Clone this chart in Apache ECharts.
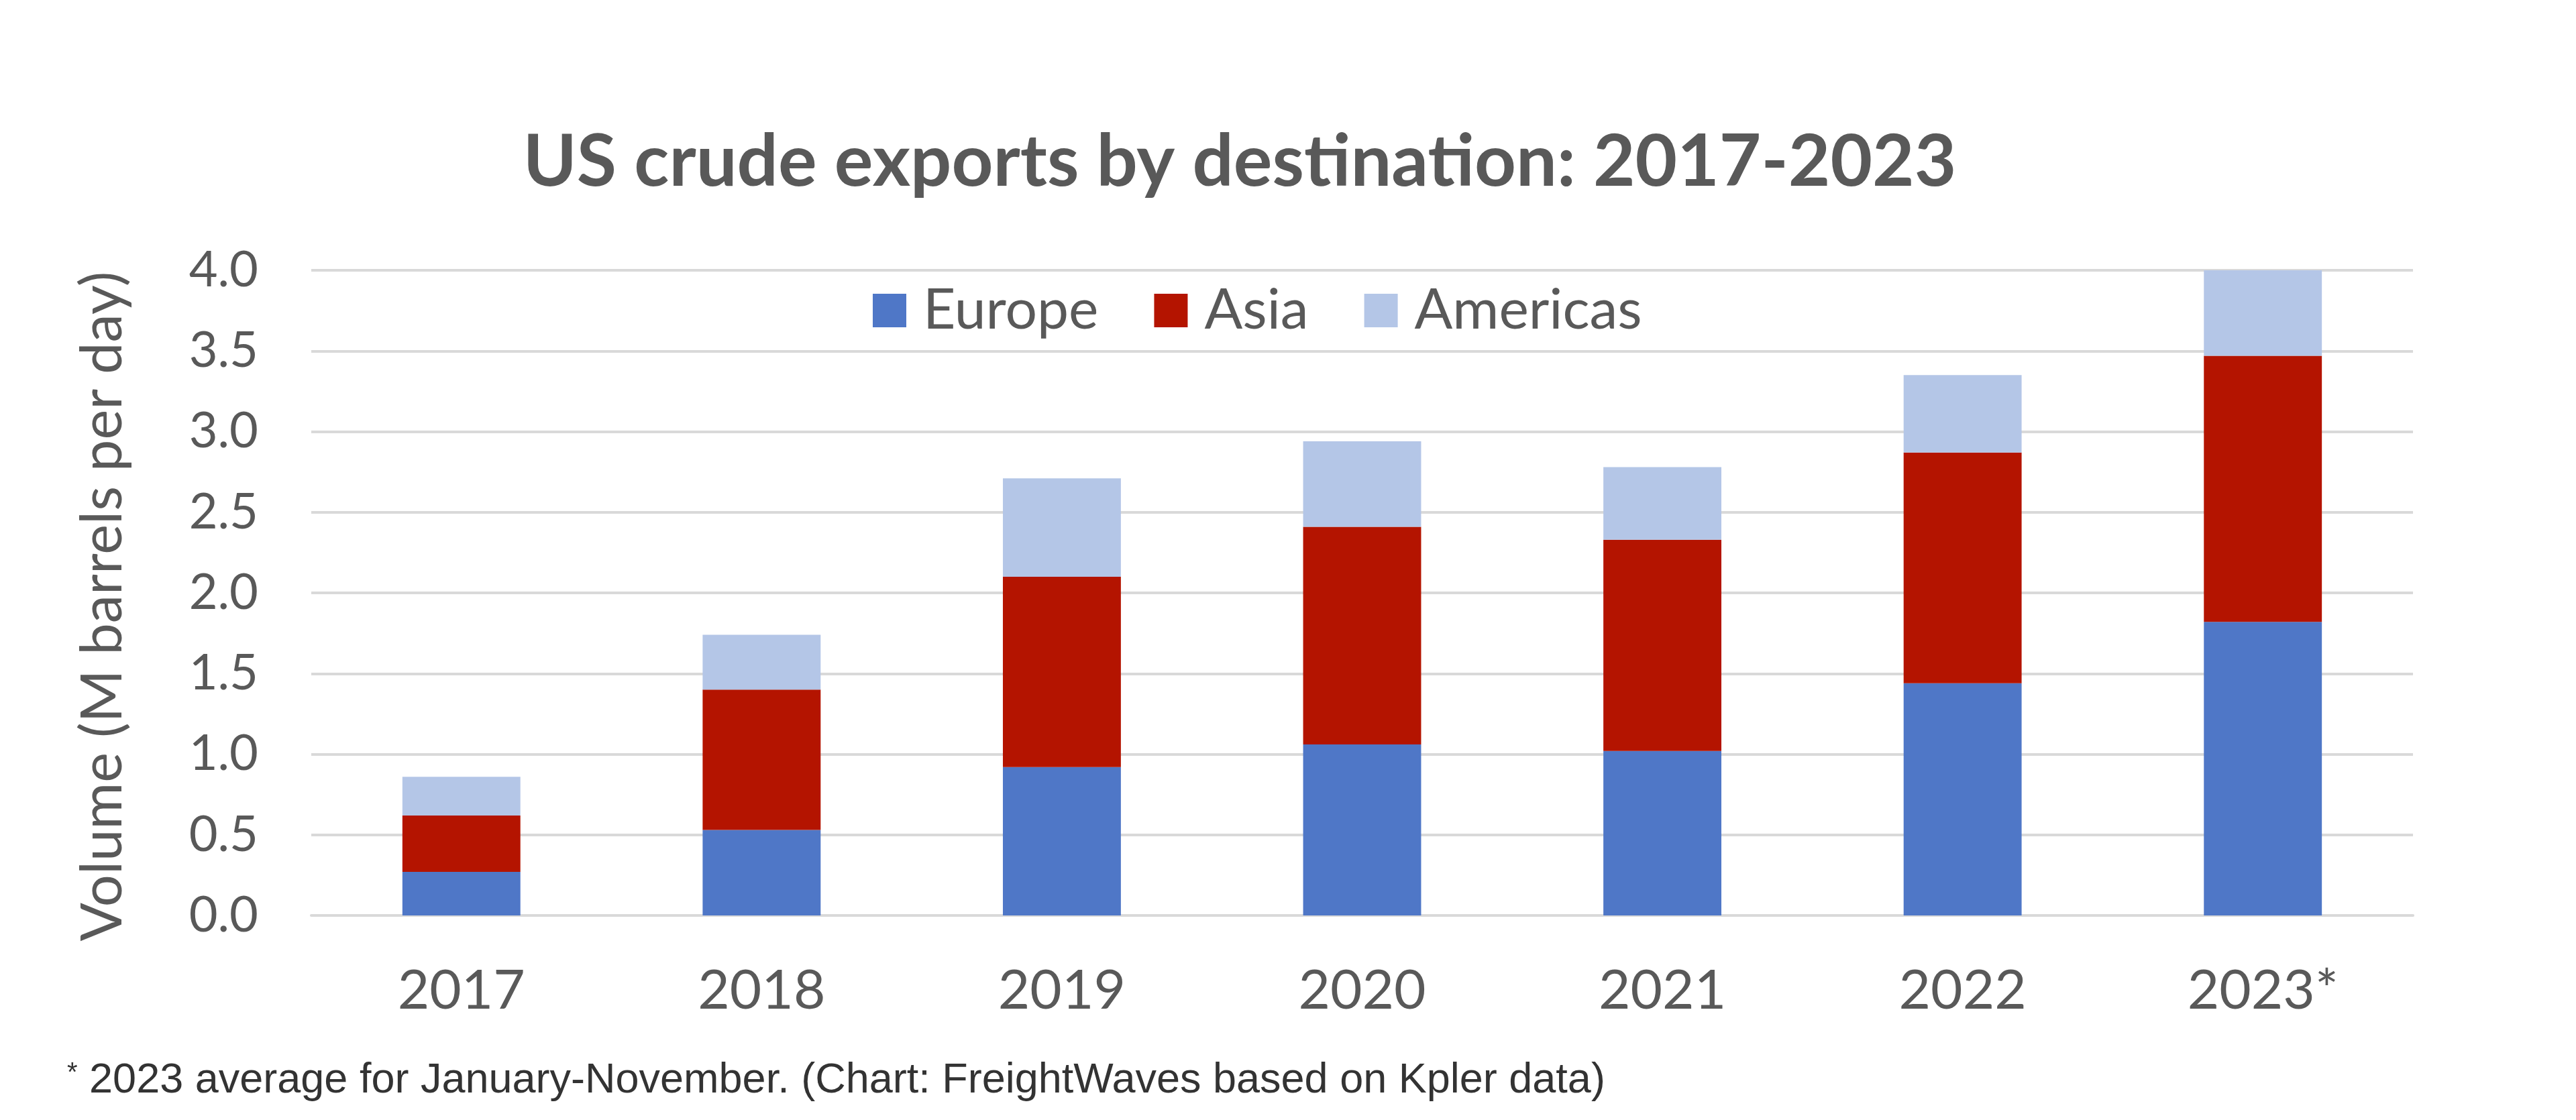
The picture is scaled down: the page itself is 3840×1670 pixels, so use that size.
<!DOCTYPE html>
<html>
<head>
<meta charset="utf-8">
<script src="https://cdn.jsdelivr.net/npm/echarts@6/dist/echarts.min.js"></script>
<style>
  html, body { margin: 0; padding: 0; background: #ffffff; }
  #chart { width: 3840px; height: 1670px; }
</style>
</head>
<body>
<div id="chart"></div>
<script>
// ---- data ----
const years = ['2017', '2018', '2019', '2020', '2021', '2022', '2023*'];
const europe = [0.27, 0.53, 0.92, 1.06, 1.02, 1.44, 1.82];
const asia = [0.35, 0.87, 1.18, 1.35, 1.31, 1.43, 1.65];
const americas = [0.24, 0.34, 0.61, 0.53, 0.45, 0.48, 0.53];
const seriesNames = ['Europe', 'Asia', 'Americas'];
const yTicks = { min: 0, max: 4, interval: 0.5 };

const titleText = 'US crude exports by destination: 2017-2023';
const yAxisTitle = 'Volume (M barrels per day)';
const footnoteText = ' 2023 average for January-November. (Chart: FreightWaves based on Kpler data)';

const colors = ['#4F77C7', '#B41400', '#B4C6E7'];
const textColor = '#595959';
const font = 'Lato';

const chart = echarts.init(document.getElementById('chart'), null, { renderer: 'canvas' });

const seriesData = [europe, asia, americas];

chart.setOption({
  backgroundColor: '#ffffff',
  animation: false,
  color: colors,
  grid: {
    left: 464, right: 243, top: 403, bottom: 305,
    outerBoundsMode: 'none'
  },
  legend: {
    data: seriesNames,
    left: 1301,
    top: 421,
    padding: 0,
    icon: 'rect',
    itemWidth: 50,
    itemHeight: 50,
    itemGap: 83,
    textStyle: { fontFamily: font, fontSize: 84, color: textColor, padding: [0, 0, 0, 20] }
  },
  xAxis: {
    type: 'category',
    data: years,
    axisLine: { show: true, lineStyle: { color: '#D9D9D9', width: 4 } },
    axisTick: { show: false },
    axisLabel: { fontFamily: font, fontSize: 82, color: textColor, margin: 72 }
  },
  yAxis: {
    type: 'value',
    min: yTicks.min,
    max: yTicks.max,
    interval: yTicks.interval,
    name: yAxisTitle,
    nameLocation: 'middle',
    nameRotate: 90,
    nameGap: 268,
    nameTextStyle: { fontFamily: font, fontSize: 85, color: textColor, padding: [0, 40, 0, 0] },
    axisLine: { show: false },
    axisTick: { show: false },
    splitLine: { lineStyle: { color: '#D9D9D9', width: 4 } },
    axisLabel: {
      fontFamily: font, fontSize: 74, color: textColor, margin: 79,
      formatter: v => v.toFixed(1)
    }
  },
  series: seriesData.map((d, i) => ({
    name: seriesNames[i],
    type: 'bar',
    stack: 'total',
    data: d,
    barWidth: '39.3%',
    itemStyle: { color: colors[i] }
  })),
  graphic: [
    {
      type: 'text',
      x: 1848, y: 242,
      style: {
        text: titleText,
        fontFamily: font, fontWeight: 'bold', fontSize: 108,
        fill: textColor,
        align: 'center', verticalAlign: 'middle'
      }
    },
    {
      type: 'text',
      x: 100, y: 1612,
      style: {
        text: '{s|*}' + footnoteText,
        fontFamily: 'Liberation Sans', fontSize: 63,
        fill: '#333333',
        verticalAlign: 'middle',
        rich: {
          s: { fontFamily: 'Liberation Sans', fontSize: 40, fill: '#333333', verticalAlign: 'top', padding: [0, 0, 20, 0] }
        }
      }
    }
  ]
});
</script>
</body>
</html>
